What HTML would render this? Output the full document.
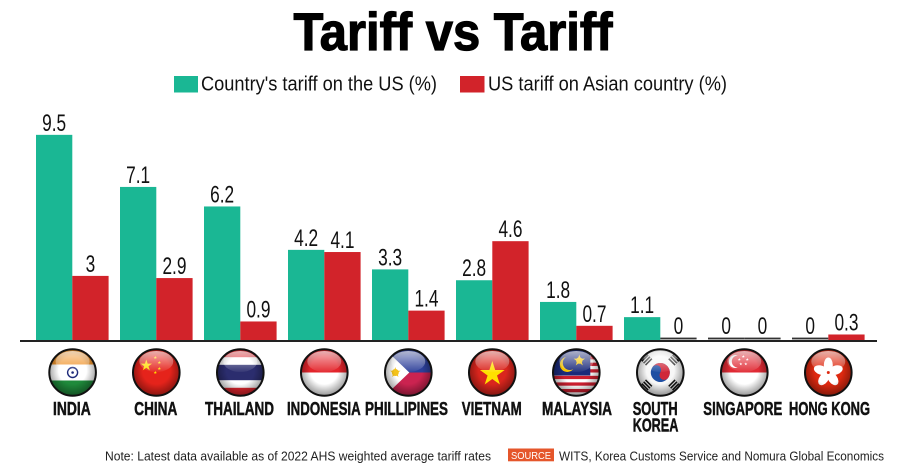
<!DOCTYPE html>
<html>
<head>
<meta charset="utf-8">
<style>
html,body{margin:0;padding:0;background:#fff}
svg{display:block}
.v{font-family:"Liberation Sans",sans-serif;font-size:24px;fill:#111}
.c{font-family:"Liberation Sans",sans-serif;font-weight:bold;font-size:18.5px;fill:#111;stroke:#111;stroke-width:0.5}
</style>
</head>
<body>
<svg width="900" height="468" viewBox="0 0 900 468" xmlns="http://www.w3.org/2000/svg">
<defs>
  <clipPath id="cc"><circle r="23"/></clipPath>
  <polygon id="star" points="0,-1 0.2245,-0.309 0.951,-0.309 0.363,0.118 0.588,0.809 0,0.382 -0.588,0.809 -0.363,0.118 -0.951,-0.309 -0.2245,-0.309"/>
  <radialGradient id="vig" cx="0.5" cy="0.45" r="0.55">
    <stop offset="0.55" stop-color="#000" stop-opacity="0"/>
    <stop offset="1" stop-color="#000" stop-opacity="0.4"/>
  </radialGradient>
  <linearGradient id="hl" x1="0" y1="0" x2="0" y2="1">
    <stop offset="0" stop-color="#fff" stop-opacity="0.65"/>
    <stop offset="1" stop-color="#fff" stop-opacity="0.05"/>
  </linearGradient>
  <g id="gloss">
    <circle r="23" fill="url(#vig)"/>
    <ellipse cx="0" cy="-11" rx="17" ry="10.5" fill="url(#hl)"/>
    <circle r="23.3" fill="none" stroke="#111" stroke-width="2"/>
  </g>
</defs>

<rect width="900" height="468" fill="#fff"/>

<!-- Title -->
<text x="293.5" y="50" font-family="Liberation Sans, sans-serif" font-weight="bold" font-size="53" fill="#000" stroke="#000" stroke-width="1.2" textLength="319" lengthAdjust="spacingAndGlyphs">Tariff vs Tariff</text>

<!-- Legend -->
<rect x="174" y="76" width="24" height="16.5" fill="#1ab794"/>
<text x="201" y="90.5" font-family="Liberation Sans, sans-serif" font-size="20" fill="#111" textLength="236" lengthAdjust="spacingAndGlyphs">Country's tariff on the US (%)</text>
<rect x="460" y="76" width="24.5" height="16.5" fill="#d2232a"/>
<text x="488" y="90.5" font-family="Liberation Sans, sans-serif" font-size="20" fill="#111" textLength="239" lengthAdjust="spacingAndGlyphs">US tariff on Asian country (%)</text>

<!-- Green bars -->
<g fill="#1ab794">
<rect x="36" y="134.85" width="36.3" height="206.15"/>
<rect x="120" y="186.93" width="36.3" height="154.07"/>
<rect x="204" y="206.46" width="36.3" height="134.54"/>
<rect x="288" y="249.86" width="36.3" height="91.14"/>
<rect x="372" y="269.39" width="36.3" height="71.61"/>
<rect x="456" y="280.24" width="36.3" height="60.76"/>
<rect x="540" y="301.94" width="36.3" height="39.06"/>
<rect x="624" y="317.13" width="36.3" height="23.87"/>
</g>
<!-- Red bars -->
<g fill="#d2232a">
<rect x="72.3" y="275.9" width="36.3" height="65.1"/>
<rect x="156.3" y="278.07" width="36.3" height="62.93"/>
<rect x="240.3" y="321.47" width="36.3" height="19.53"/>
<rect x="324.3" y="252.03" width="36.3" height="88.97"/>
<rect x="408.3" y="310.62" width="36.3" height="30.38"/>
<rect x="492.3" y="241.18" width="36.3" height="99.82"/>
<rect x="576.3" y="325.81" width="36.3" height="15.19"/>
<rect x="828.3" y="334.49" width="36.3" height="6.51"/>
</g>
<!-- zero marks -->
<g fill="#333">
<rect x="660.3" y="337.6" width="36.3" height="1.8"/>
<rect x="708" y="337.6" width="36.3" height="1.8"/>
<rect x="744.3" y="337.6" width="36.3" height="1.8"/>
<rect x="792" y="337.6" width="36.3" height="1.8"/>
</g>
<!-- axis -->
<rect x="20" y="340" width="857" height="2" fill="#222"/>

<!-- Value labels -->
<g class="v" text-anchor="middle">
<text transform="translate(54.15,130.85) scale(0.72,1)">9.5</text>
<text transform="translate(90.45,271.9) scale(0.72,1)">3</text>
<text transform="translate(138.15,182.93) scale(0.72,1)">7.1</text>
<text transform="translate(174.45,274.07) scale(0.72,1)">2.9</text>
<text transform="translate(222.15,202.46) scale(0.72,1)">6.2</text>
<text transform="translate(258.45,317.47) scale(0.72,1)">0.9</text>
<text transform="translate(306.15,245.86) scale(0.72,1)">4.2</text>
<text transform="translate(342.45,248.03) scale(0.72,1)">4.1</text>
<text transform="translate(390.15,265.39) scale(0.72,1)">3.3</text>
<text transform="translate(426.45,306.62) scale(0.72,1)">1.4</text>
<text transform="translate(474.15,276.24) scale(0.72,1)">2.8</text>
<text transform="translate(510.45,237.18) scale(0.72,1)">4.6</text>
<text transform="translate(558.15,297.94) scale(0.72,1)">1.8</text>
<text transform="translate(594.45,321.81) scale(0.72,1)">0.7</text>
<text transform="translate(642.15,313.13) scale(0.72,1)">1.1</text>
<text transform="translate(678.45,334) scale(0.72,1)">0</text>
<text transform="translate(726.15,334) scale(0.72,1)">0</text>
<text transform="translate(762.45,334) scale(0.72,1)">0</text>
<text transform="translate(810.15,334) scale(0.72,1)">0</text>
<text transform="translate(846.45,330.49) scale(0.72,1)">0.3</text>
</g>

<!-- Flags -->
<!-- India -->
<g transform="translate(72.6,372.5)">
  <g clip-path="url(#cc)">
    <rect x="-23" y="-23" width="46" height="46" fill="#fff"/>
    <rect x="-23" y="-23" width="46" height="15" fill="#f0952e"/>
    <rect x="-23" y="8" width="46" height="15" fill="#1f8a3b"/>
    <circle r="5" fill="none" stroke="#1d2a7a" stroke-width="1.4"/>
    <circle r="1.3" fill="#1d2a7a"/>
  </g>
  <use href="#gloss"/>
</g>
<!-- China -->
<g transform="translate(156.3,372.5)">
  <g clip-path="url(#cc)">
    <rect x="-23" y="-23" width="46" height="46" fill="#e5231b"/>
    <use href="#star" transform="translate(-10,-7) scale(6)" fill="#ffdd00"/>
    <use href="#star" transform="translate(-1,-15) scale(1.8)" fill="#ffdd00"/>
    <use href="#star" transform="translate(3,-10) scale(1.8)" fill="#ffdd00"/>
    <use href="#star" transform="translate(3,-4) scale(1.8)" fill="#ffdd00"/>
    <use href="#star" transform="translate(-1,0) scale(1.8)" fill="#ffdd00"/>
  </g>
  <use href="#gloss"/>
</g>
<!-- Thailand -->
<g transform="translate(240.3,372.5)">
  <g clip-path="url(#cc)">
    <rect x="-23" y="-23" width="46" height="46" fill="#e0262e"/>
    <rect x="-23" y="-15.3" width="46" height="30.6" fill="#fff"/>
    <rect x="-23" y="-7.7" width="46" height="15.4" fill="#2b2d6e"/>
  </g>
  <use href="#gloss"/>
</g>
<!-- Indonesia -->
<g transform="translate(324.3,372.5)">
  <g clip-path="url(#cc)">
    <rect x="-23" y="-23" width="46" height="46" fill="#fff"/>
    <rect x="-23" y="-23" width="46" height="23" fill="#e3242b"/>
  </g>
  <use href="#gloss"/>
</g>
<!-- Philippines -->
<g transform="translate(408.3,372.5)">
  <g clip-path="url(#cc)">
    <rect x="-23" y="-23" width="46" height="23" fill="#2c3f99"/>
    <rect x="-23" y="0" width="46" height="23" fill="#cb2350"/>
    <polygon points="-23,-23 1,0 -23,23" fill="#fff"/>
    <circle cx="-13" cy="0" r="3.5" fill="#f4c21a"/>
    <use href="#star" transform="translate(-13,0) scale(5.5)" fill="#f4c21a"/>
  </g>
  <use href="#gloss"/>
</g>
<!-- Vietnam -->
<g transform="translate(492.3,372.5)">
  <g clip-path="url(#cc)">
    <rect x="-23" y="-23" width="46" height="46" fill="#da251d"/>
    <use href="#star" transform="translate(0,1.5) scale(13)" fill="#ffe000"/>
  </g>
  <use href="#gloss"/>
</g>
<!-- Malaysia -->
<g transform="translate(576.3,372.5)">
  <g clip-path="url(#cc)">
    <rect x="-23" y="-23" width="46" height="46" fill="#fff"/>
    <g fill="#cc1e2f">
      <rect x="-23" y="-23" width="46" height="3.29"/>
      <rect x="-23" y="-16.42" width="46" height="3.29"/>
      <rect x="-23" y="-9.84" width="46" height="3.29"/>
      <rect x="-23" y="-3.26" width="46" height="3.29"/>
      <rect x="-23" y="3.32" width="46" height="3.29"/>
      <rect x="-23" y="9.9" width="46" height="3.29"/>
      <rect x="-23" y="16.48" width="46" height="3.29"/>
    </g>
    <rect x="-23" y="-23" width="37" height="26" fill="#1a2a7a"/>
    <circle cx="-9" cy="-8" r="7.5" fill="#f5c400"/>
    <circle cx="-6.5" cy="-9.5" r="7" fill="#1a2a7a"/>
    <use href="#star" transform="translate(3,-12) scale(6)" fill="#f5c400"/>
    <circle cx="3" cy="-12" r="3.2" fill="#f5c400"/>
  </g>
  <use href="#gloss"/>
</g>
<!-- South Korea -->
<g transform="translate(660.3,372.5)">
  <g clip-path="url(#cc)">
    <rect x="-23" y="-23" width="46" height="46" fill="#f7f7f7"/>
    <g transform="rotate(33.7)">
      <circle r="9.5" fill="#1f4fa3"/>
      <path d="M -9.5,0 A 9.5 9.5 0 0 1 9.5,0 A 4.75 4.75 0 0 1 0,0 A 4.75 4.75 0 0 0 -9.5,0 Z" fill="#d0283a"/>
    </g>
    <g fill="#111">
      <g transform="translate(-13.5,-12.5) rotate(-45)"><rect x="-4.5" y="-3.4" width="9" height="1.5"/><rect x="-4.5" y="-0.75" width="9" height="1.5"/><rect x="-4.5" y="1.9" width="9" height="1.5"/></g>
      <g transform="translate(13.5,-12.5) rotate(45)"><rect x="-4.5" y="-3.4" width="9" height="1.5"/><rect x="-4.5" y="-0.75" width="9" height="1.5"/><rect x="-4.5" y="1.9" width="9" height="1.5"/></g>
      <g transform="translate(-13.5,12.5) rotate(45)"><rect x="-4.5" y="-3.4" width="9" height="1.5"/><rect x="-4.5" y="-0.75" width="9" height="1.5"/><rect x="-4.5" y="1.9" width="9" height="1.5"/></g>
      <g transform="translate(13.5,12.5) rotate(-45)"><rect x="-4.5" y="-3.4" width="9" height="1.5"/><rect x="-4.5" y="-0.75" width="9" height="1.5"/><rect x="-4.5" y="1.9" width="9" height="1.5"/></g>
    </g>
  </g>
  <use href="#gloss"/>
</g>
<!-- Singapore -->
<g transform="translate(744.3,372.5)">
  <g clip-path="url(#cc)">
    <rect x="-23" y="-23" width="46" height="46" fill="#fff"/>
    <rect x="-23" y="-23" width="46" height="23" fill="#e02a34"/>
    <circle cx="-9" cy="-11" r="6.5" fill="#fff"/>
    <circle cx="-6.5" cy="-11" r="6" fill="#e02a34"/>
    <g fill="#fff">
      <use href="#star" transform="translate(-1,-16) scale(1.6)"/>
      <use href="#star" transform="translate(3,-13) scale(1.6)"/>
      <use href="#star" transform="translate(1.5,-8.5) scale(1.6)"/>
      <use href="#star" transform="translate(-3.5,-8.5) scale(1.6)"/>
      <use href="#star" transform="translate(-5,-13) scale(1.6)"/>
    </g>
  </g>
  <use href="#gloss"/>
</g>
<!-- Hong Kong -->
<g transform="translate(828.3,372.5)">
  <g clip-path="url(#cc)">
    <rect x="-23" y="-23" width="46" height="46" fill="#de2910"/>
    <g fill="#fff">
      <ellipse cx="0" cy="-7.5" rx="4.5" ry="7.5" transform="rotate(0)"/>
      <ellipse cx="0" cy="-7.5" rx="4.5" ry="7.5" transform="rotate(72)"/>
      <ellipse cx="0" cy="-7.5" rx="4.5" ry="7.5" transform="rotate(144)"/>
      <ellipse cx="0" cy="-7.5" rx="4.5" ry="7.5" transform="rotate(216)"/>
      <ellipse cx="0" cy="-7.5" rx="4.5" ry="7.5" transform="rotate(288)"/>
    </g>
    <circle r="1.5" fill="#de2910"/>
  </g>
  <use href="#gloss"/>
</g>

<!-- Country labels -->
<g class="c">
<text x="53" y="415" textLength="37.7" lengthAdjust="spacingAndGlyphs">INDIA</text>
<text x="134.3" y="415" textLength="43" lengthAdjust="spacingAndGlyphs">CHINA</text>
<text x="205" y="415" textLength="69" lengthAdjust="spacingAndGlyphs">THAILAND</text>
<text x="287" y="415" textLength="73.7" lengthAdjust="spacingAndGlyphs">INDONESIA</text>
<text x="365" y="415" textLength="83" lengthAdjust="spacingAndGlyphs">PHILLIPINES</text>
<text x="461.7" y="415" textLength="60" lengthAdjust="spacingAndGlyphs">VIETNAM</text>
<text x="542" y="415" textLength="70" lengthAdjust="spacingAndGlyphs">MALAYSIA</text>
<text x="632.7" y="415" textLength="45" lengthAdjust="spacingAndGlyphs">SOUTH</text>
<text x="632.7" y="431.7" textLength="45.7" lengthAdjust="spacingAndGlyphs">KOREA</text>
<text x="703.3" y="415" textLength="79" lengthAdjust="spacingAndGlyphs">SINGAPORE</text>
<text x="789" y="415" textLength="81" lengthAdjust="spacingAndGlyphs">HONG KONG</text>
</g>

<!-- Footer -->
<text x="105" y="460.5" font-family="Liberation Sans, sans-serif" font-size="12.5" fill="#222" textLength="386" lengthAdjust="spacingAndGlyphs">Note: Latest data available as of 2022 AHS weighted average tariff rates</text>
<rect x="508" y="448.5" width="46" height="12.8" fill="#e5562b"/>
<text x="511" y="459" font-family="Liberation Sans, sans-serif" font-size="10.5" fill="#fff" textLength="40" lengthAdjust="spacingAndGlyphs">SOURCE</text>
<text x="559" y="460.5" font-family="Liberation Sans, sans-serif" font-size="12.5" fill="#222" textLength="325" lengthAdjust="spacingAndGlyphs">WITS, Korea Customs Service and Nomura Global Economics</text>
</svg>
</body>
</html>
